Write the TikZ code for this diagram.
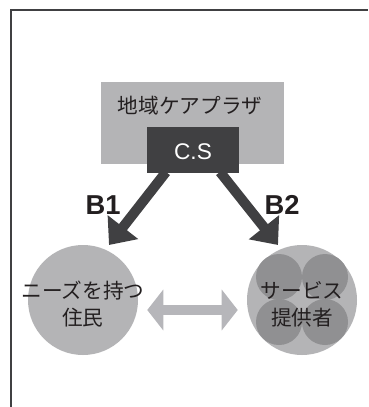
\documentclass[tikz,border=0pt]{standalone}
\usepackage{fontspec}
\setmainfont{Liberation Sans}
\newfontfamily\jp{Noto Sans CJK JP}
\usetikzlibrary{arrows.meta,calc}
\definecolor{lgray}{HTML}{B4B4B6}
\definecolor{mgray}{HTML}{909092}
\definecolor{dgray}{HTML}{404042}
\definecolor{txt}{HTML}{231F20}
\definecolor{agray}{HTML}{B6B6BA}
\tikzset{
  jptext/.style={font=\jp\fontsize{15.5pt}{20pt}\selectfont, text=txt, align=center, inner sep=0pt},
  blabel/.style={font=\bfseries\fontsize{20.5pt}{22pt}\selectfont, text=txt, inner sep=0pt},
  barrow/.style={draw=dgray, line width=7.5pt, -{Triangle[length=17pt,width=28pt]}},
  darrow/.style={draw=agray, line width=7.5pt, {Triangle[length=12pt,width=30pt]}-{Triangle[length=12pt,width=30pt]}},
  bigcircle/.style={circle, fill=lgray, minimum size=82.5pt, inner sep=0pt},
  smallcircle/.style={circle, fill=mgray, minimum size=34.5pt, inner sep=0pt},
}
\begin{document}
\begin{tikzpicture}[x=0.75pt, y=-0.75pt]
\useasboundingbox (0,0) rectangle (368,407);
\fill[white] (0,0) rectangle (368,407);
% frame
\draw[line width=1pt, draw=dgray] (11,407) -- (11,10) -- (368,10);
% plaza box
\node[fill=lgray, minimum width=137.25pt, minimum height=61.5pt, inner sep=0pt] (plaza) at (192.5,123) {};
\node[jptext] (plazat) at (190,106) {地域ケアプラザ};
\node[fill=dgray, minimum width=69pt, minimum height=34.5pt, inner sep=0pt] (cs) at (193,150) {};
\node[font=\fontsize{17pt}{18pt}\selectfont, text=white, inner sep=0pt] (cst) at (193,152) {C.S};
% circles
\node[bigcircle] (left) at (83,300) {};
\node[bigcircle] (right) at (302,300) {};
\node[smallcircle] (r1) at (279,277) {};
\node[smallcircle] (r2) at (325,277) {};
\node[smallcircle] (r3) at (279,322) {};
\node[smallcircle] (r4) at (325,322) {};
\node[jptext] (leftt) at (83,304) {ニーズを持つ\\住民};
\node[jptext] (rightt) at (302,304) {サービス\\提供者};
% arrows
\coordinate (b1s) at (166,172);
\coordinate (b1e) at (109,245);
\coordinate (b2s) at (220,172);
\coordinate (b2e) at (278,245);
\draw[barrow] (b1s) -- (b1e);
\draw[barrow] (b2s) -- (b2e);
\node[blabel] (B1) at (103,205) {B1};
\node[blabel] (B2) at (282,205) {B2};
\draw[darrow] ($(left.east)+(9,10)$) -- ($(right.west)+(-9,10)$);
\end{tikzpicture}
\end{document}
